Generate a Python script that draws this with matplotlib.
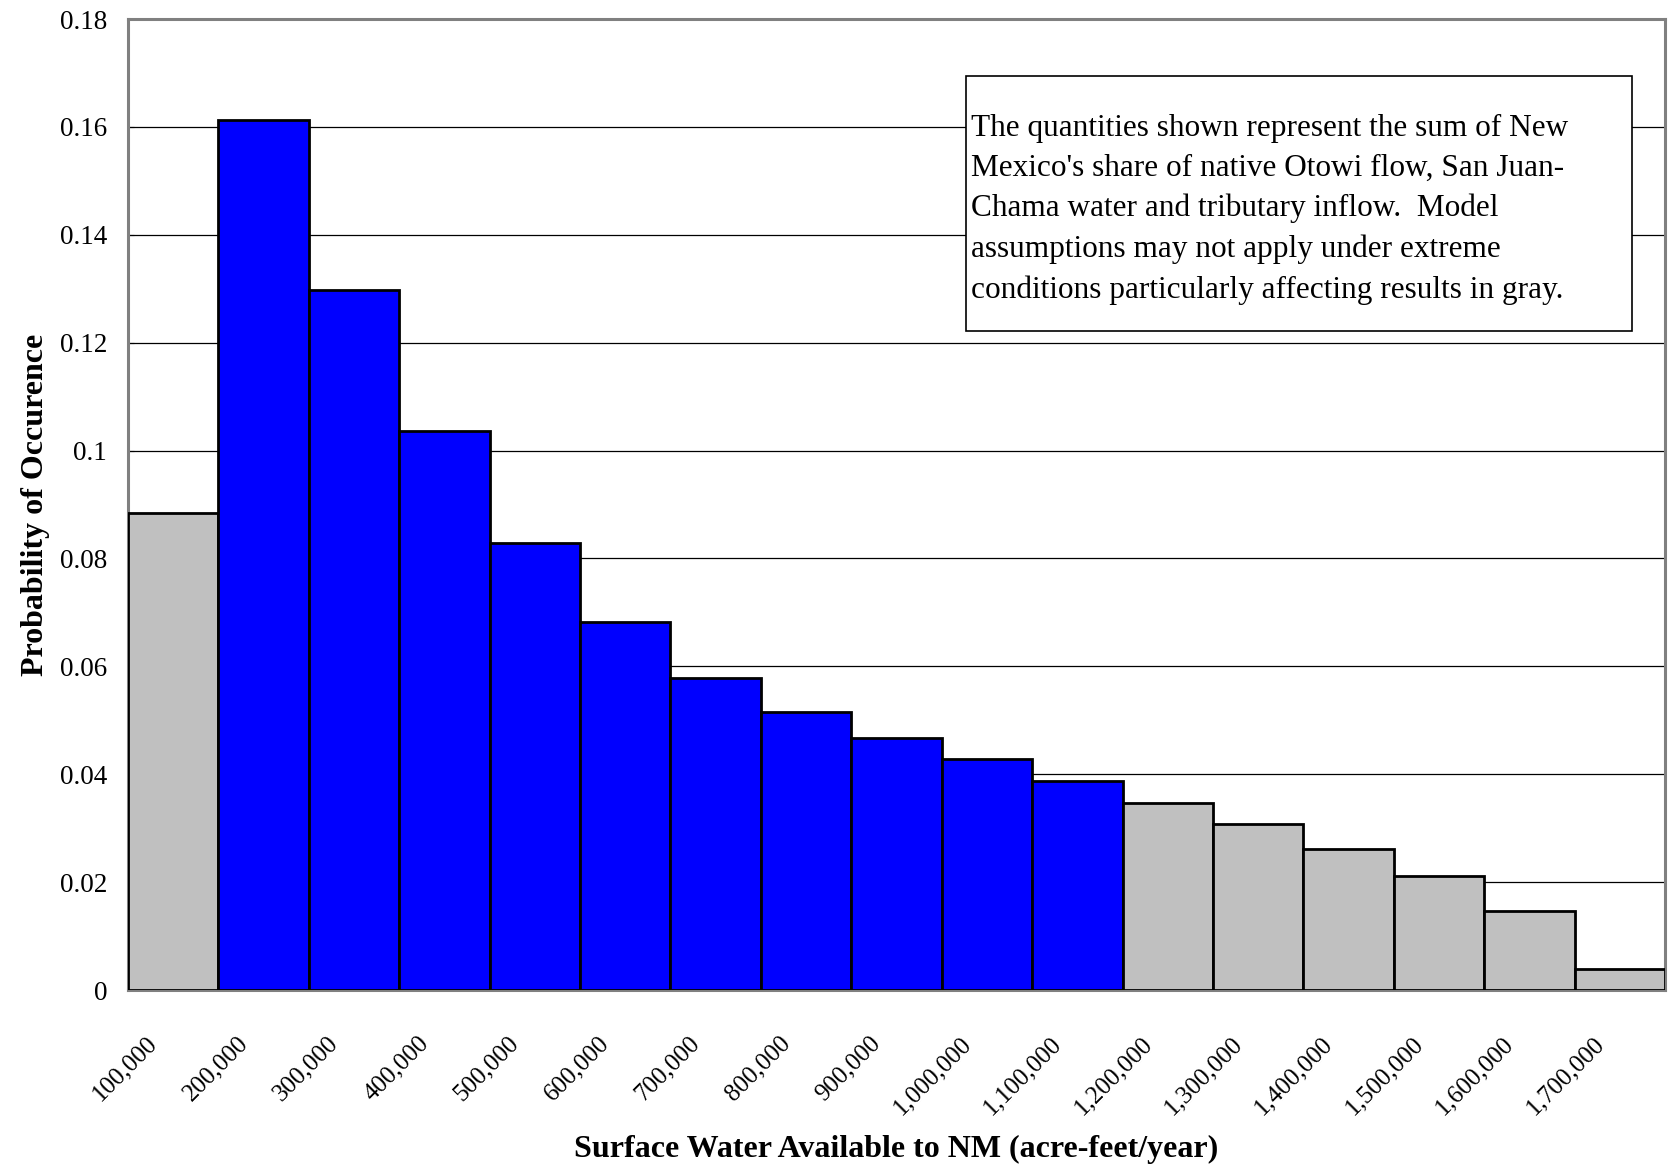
import numpy as np
import matplotlib.pyplot as plt
import matplotlib.transforms as mtransforms
from matplotlib.patches import Rectangle

plt.rcParams['font.family'] = ['Liberation Serif', 'DejaVu Serif']

# bin starts (acre-feet/year), each bin 100,000 wide
bin_starts = [100000, 200000, 300000, 400000, 500000, 600000, 700000, 800000, 900000,
              1000000, 1100000, 1200000, 1300000, 1400000, 1500000, 1600000, 1700000]
probs = [0.0884, 0.1612, 0.1297, 0.1036, 0.0829, 0.0683, 0.0578, 0.0515, 0.0468,
         0.0428, 0.0387, 0.0347, 0.0308, 0.0261, 0.0211, 0.0146, 0.0039]
# True = shown in gray (model assumptions may not apply)
uncertain = [True, False, False, False, False, False, False, False, False,
             False, False, True, True, True, True, True, True]
tick_labels = ['{:,}'.format(v) for v in bin_starts]

note = ("The quantities shown represent the sum of New\n"
        "Mexico's share of native Otowi flow, San Juan-\n"
        "Chama water and tributary inflow.  Model\n"
        "assumptions may not apply under extreme\n"
        "conditions particularly affecting results in gray.")

bin_width = 100000
colors = ['#C0C0C0' if u else '#0000FF' for u in uncertain]

fig = plt.figure(figsize=(16.69, 11.66), dpi=100)
ax = fig.add_axes([0.0767, 0.1509, 0.9976 - 0.0767, 0.9837 - 0.1509])

ax.bar(bin_starts, probs, width=bin_width, align='edge', color=colors,
       edgecolor='black', linewidth=2.0, zorder=3)

ax.set_xlim(bin_starts[0], bin_starts[-1] + bin_width)
ax.set_ylim(0, 0.18)
ax.set_yticks(np.arange(0, 0.181, 0.02))
ax.set_yticklabels(['0', '0.02', '0.04', '0.06', '0.08', '0.1', '0.12', '0.14', '0.16', '0.18'])
ax.yaxis.grid(True, color='black', linewidth=0.9, zorder=0)
ax.tick_params(axis='y', labelsize=19.5, length=4.3, direction='in', pad=15)

ax.set_xticks(bin_starts)
ax.set_xticklabels(tick_labels, rotation=45, ha='right', va='center',
                   rotation_mode='anchor', fontsize=18)
ax.tick_params(axis='x', length=0, pad=36)
offset = mtransforms.ScaledTranslation(26 / 100, 0, fig.dpi_scale_trans)
for lbl in ax.get_xticklabels():
    lbl.set_transform(lbl.get_transform() + offset)

for s in ax.spines.values():
    s.set_color('#808080')
    s.set_linewidth(2.2)

ax.set_ylabel('Probability of Occurence', fontsize=23, fontweight='bold', va='center')
ax.yaxis.set_label_coords(-0.0605, 0.5)
ax.set_xlabel('Surface Water Available to NM (acre-feet/year)', fontsize=23,
              fontweight='bold', va='center')
ax.xaxis.set_label_coords(0.5, -0.1645)

ax.add_patch(Rectangle((0.5452, 0.6786), 0.4333, 0.2626, transform=ax.transAxes,
                       facecolor='white', edgecolor='black', linewidth=1.2, zorder=5))
ax.text(0.5485, 0.804, note, transform=ax.transAxes, ha='left', va='center',
        fontsize=22.5, linespacing=1.50, zorder=6)

fig.savefig('out.png', dpi=100)
